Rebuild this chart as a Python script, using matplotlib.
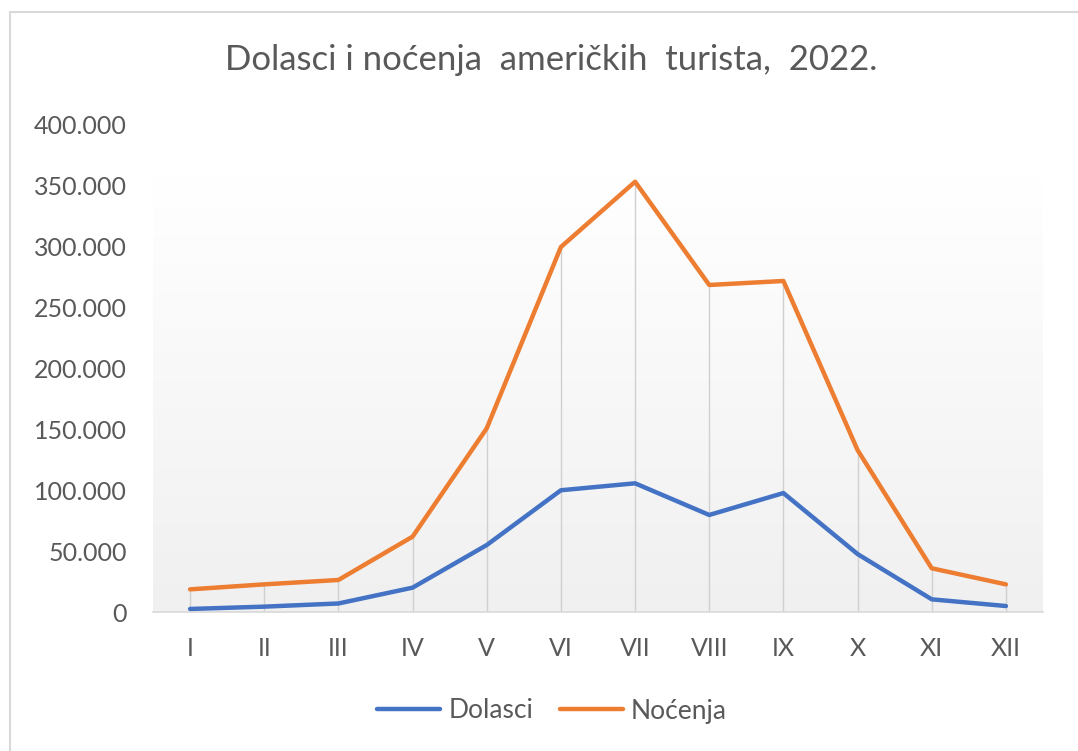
import numpy as np
import matplotlib
matplotlib.use('Agg')
import matplotlib.pyplot as plt
from matplotlib.patches import Rectangle
from matplotlib.ticker import FuncFormatter

# Data
months = ['I', 'II', 'III', 'IV', 'V', 'VI', 'VII', 'VIII', 'IX', 'X', 'XI', 'XII']
dolasci = [2500, 4400, 7000, 20000, 55000, 100000, 105700, 79700, 97700, 47600, 10400, 4900]
nocenja = [18600, 22700, 26300, 61900, 150900, 299800, 353400, 268600, 271900, 133000, 35900, 22700]

title = 'Dolasci i noćenja  američkih  turista,  2022.'
txt_color = '#595959'
plt.rcParams['font.family'] = ['Lato', 'DejaVu Sans']

fig = plt.figure(figsize=(10.78, 7.51), dpi=100)
ax = fig.add_axes([153 / 1078, 1 - 612 / 751, 890 / 1078, 487 / 751])

x = np.arange(len(months))

# gradient plot-area background (white top -> light gray bottom)
grad = np.linspace(1.0, 0.0, 256).reshape(-1, 1)
ax.imshow(grad, cmap=matplotlib.colors.LinearSegmentedColormap.from_list('g', ['#f0f0f0', '#ffffff']),
          extent=(-0.5, len(months) - 0.5, 0, 357000), aspect='auto', zorder=0, origin='upper',
          vmin=0, vmax=1)

# drop lines
top = np.maximum(dolasci, nocenja)
ax.vlines(x, 0, top, color='#d0d0d0', lw=1, zorder=1)

ax.plot(x, dolasci, color='#4472C4', lw=3.2, label='Dolasci', zorder=3, solid_capstyle='round')
ax.plot(x, nocenja, color='#ED7D31', lw=3.2, label='Noćenja', zorder=3, solid_capstyle='round')

ax.set_xlim(-0.5, len(months) - 0.5)
ax.set_ylim(0, 400000)
ax.set_yticks(np.arange(0, 400001, 50000))
ax.yaxis.set_major_formatter(FuncFormatter(lambda v, p: f'{int(v):,}'.replace(',', '.')))
ax.set_xticks(x)
ax.set_xticklabels(months)
ax.tick_params(axis='both', length=0, labelsize=18, labelcolor=txt_color)
ax.tick_params(axis='y', pad=19)
ax.tick_params(axis='x', pad=18)

for s in ['top', 'right', 'left']:
    ax.spines[s].set_visible(False)
ax.spines['bottom'].set_color('#d9d9d9')
ax.spines['bottom'].set_linewidth(1.2)
ax.set_facecolor('none')

fig.text(551 / 1078, 1 - 60 / 751, title, ha='center', va='center', fontsize=25, color=txt_color)

fig.legend(loc='center', bbox_to_anchor=(552 / 1078, 1 - 711 / 751), ncol=2, frameon=False,
           fontsize=19, labelcolor=txt_color, handlelength=2.4, handletextpad=0.3, columnspacing=1.0)

# outer chart frame (cropped at right and bottom)
fig.patches.append(Rectangle((10 / 1078, -0.1), 2, 1.1 - 12 / 751, transform=fig.transFigure,
                             fill=False, edgecolor='#d9d9d9', lw=1.5))

fig.savefig('out.png', dpi=100)
